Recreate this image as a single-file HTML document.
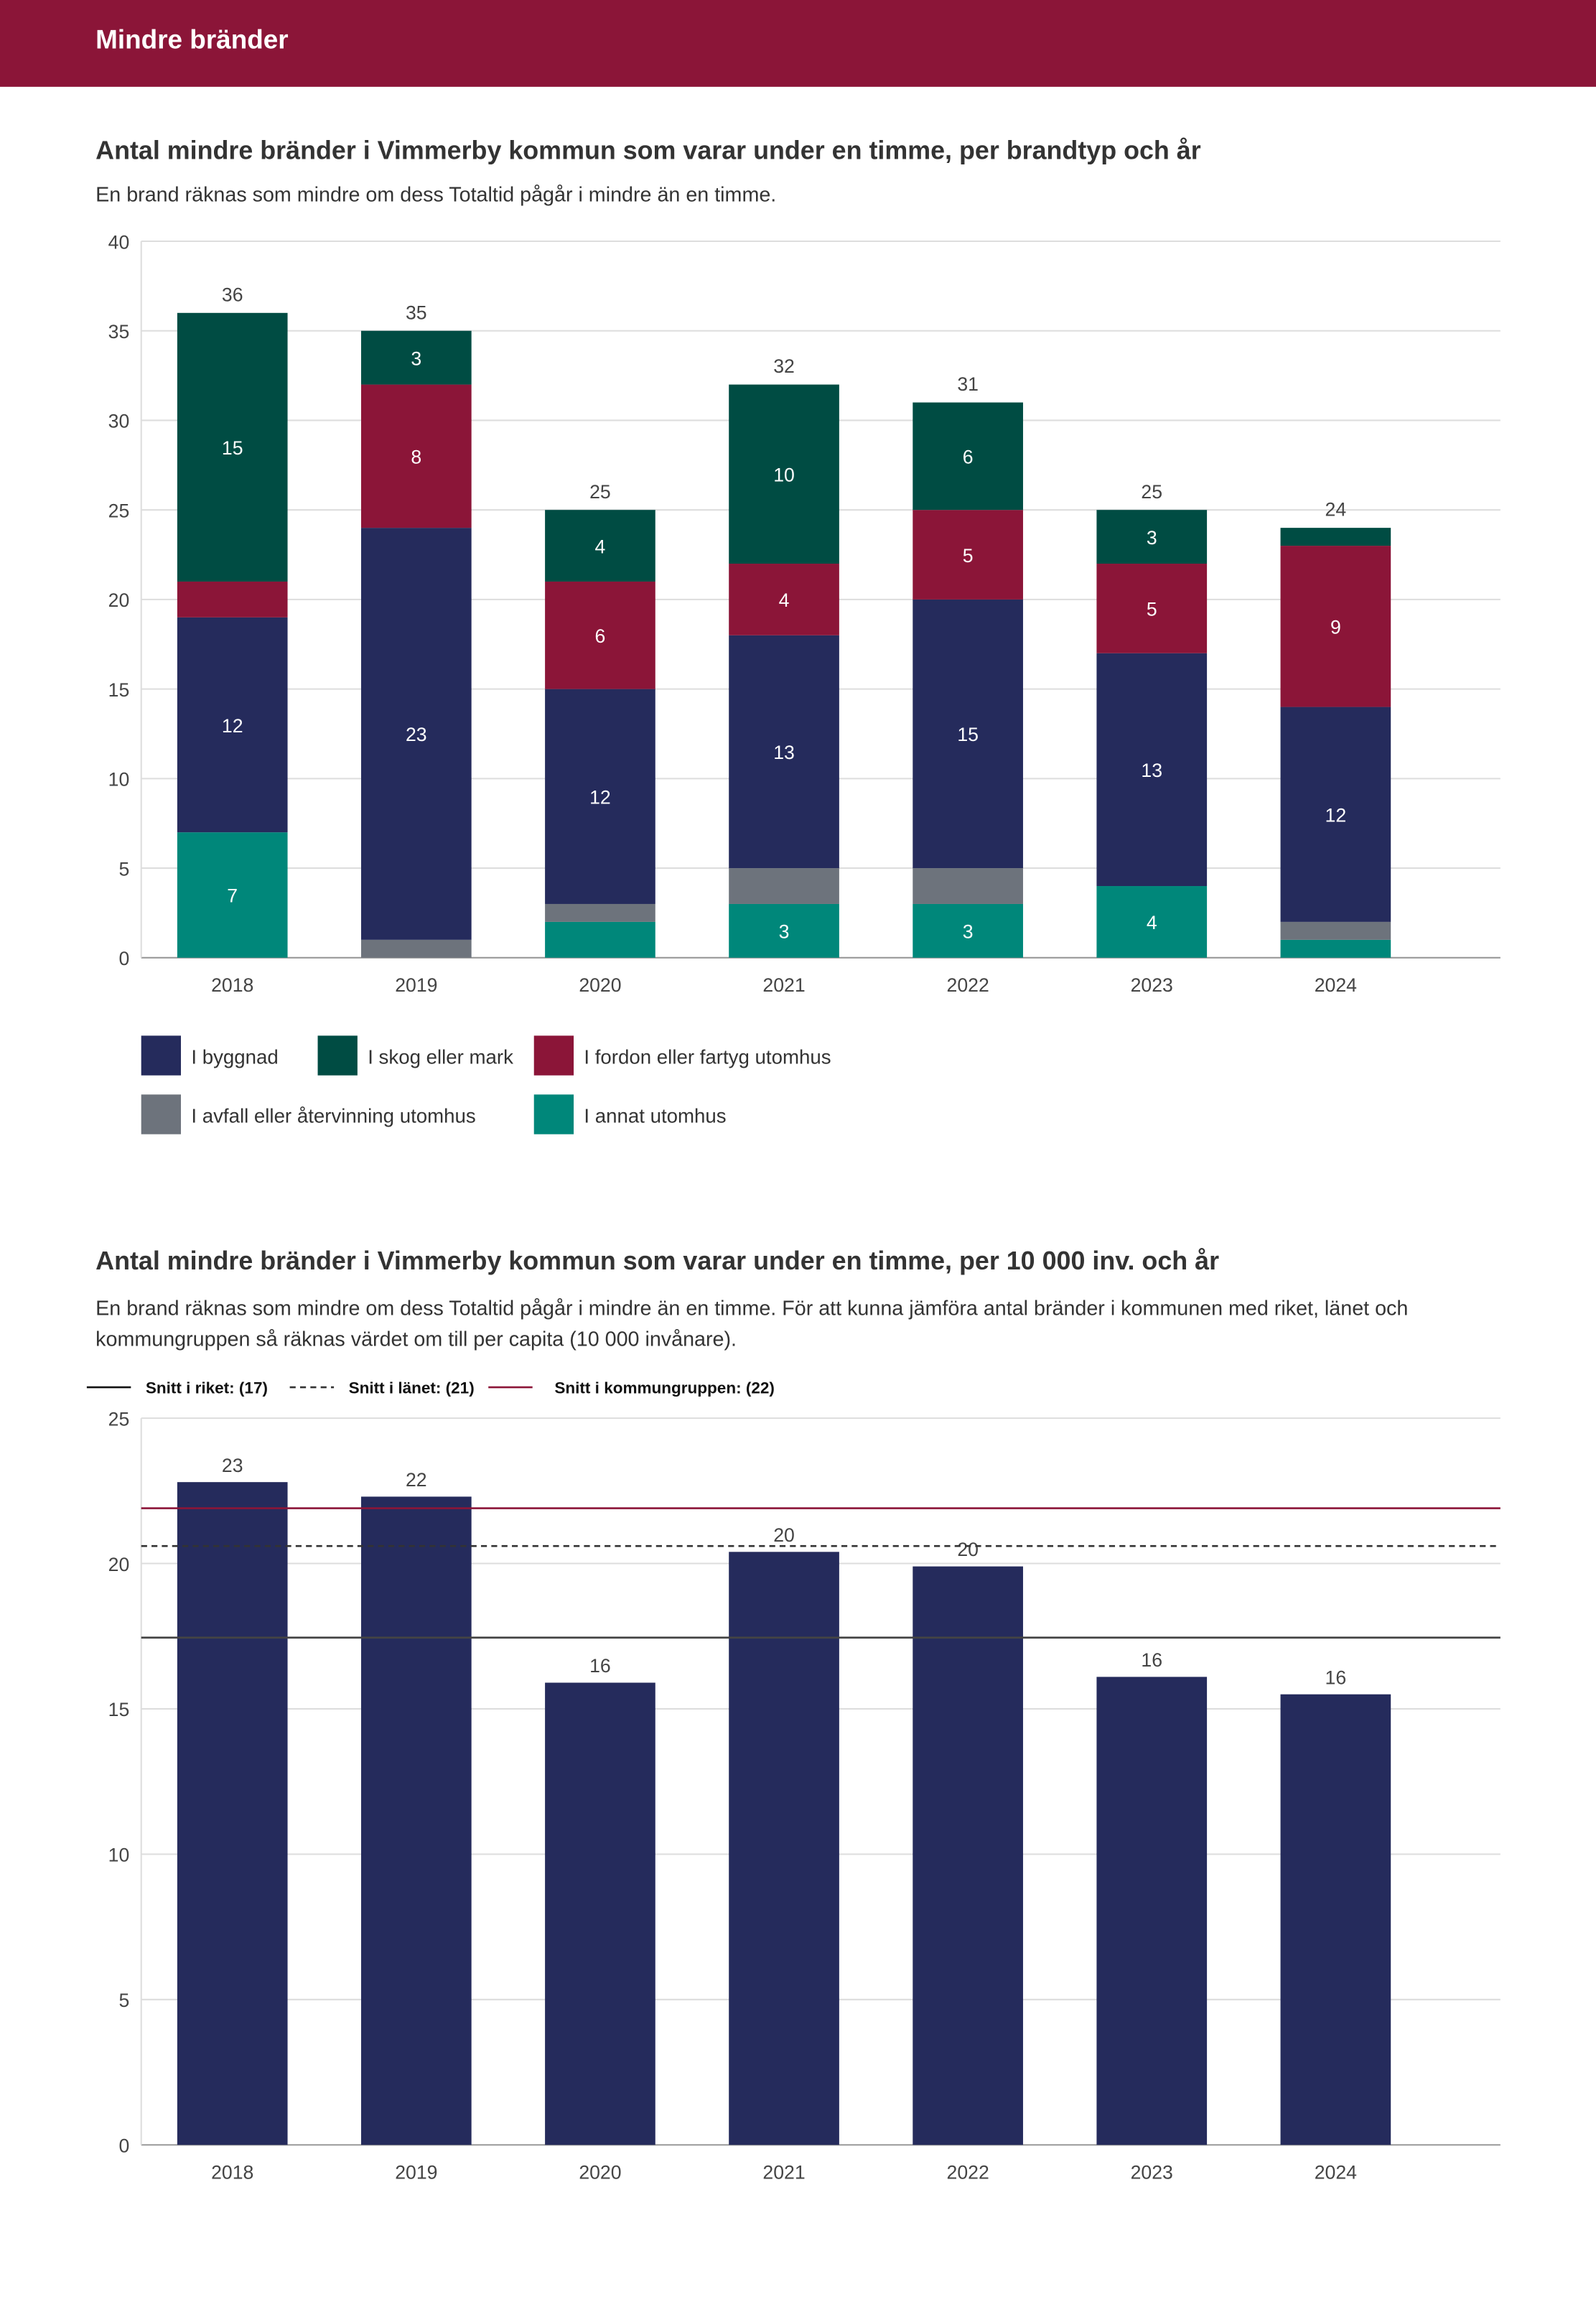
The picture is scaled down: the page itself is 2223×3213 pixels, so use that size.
<!DOCTYPE html>
<html><head><meta charset="utf-8">
<style>
html,body{margin:0;padding:0;background:#fff;}
#wrap{width:1085px;height:1568px;transform:scale(2.04885);transform-origin:0 0;position:relative;font-family:"Liberation Sans",sans-serif;color:#333;}
.hdr{position:absolute;left:0;top:0;width:1085px;height:59px;background:#8b1538;}
.hdr span{position:absolute;left:65px;top:17px;color:#fff;font-weight:bold;font-size:18px;}
.t{position:absolute;left:65px;font-weight:bold;font-size:17.5px;color:#333;}
.s{position:absolute;left:65px;font-size:14px;color:#333;line-height:21px;width:940px;}
svg{position:absolute;left:0;}
svg text{font-family:"Liberation Sans",sans-serif;}
</style></head><body>
<div id="wrap">
<div class="hdr"><span>Mindre bränder</span></div>
<div class="t" style="top:92px">Antal mindre bränder i Vimmerby kommun som varar under en timme, per brandtyp och år</div>
<div class="s" style="top:122px">En brand räknas som mindre om dess Totaltid pågår i mindre än en timme.</div>
<svg id="c1" width="1085" height="800" style="top:0"></svg>
<div class="t" style="top:847px">Antal mindre bränder i Vimmerby kommun som varar under en timme, per 10 000 inv. och år</div>
<div class="s" style="top:879px">En brand räknas som mindre om dess Totaltid pågår i mindre än en timme. För att kunna jämföra antal bränder i kommunen med riket, länet och kommungruppen så räknas värdet om till per capita (10 000 invånare).</div>
<svg id="c2" width="1085" height="1568" style="top:0"></svg>
</div>
<script>
const years=["2018","2019","2020","2021","2022","2023","2024"];
const annat=[7,0,2,3,3,4,1];
const avfall=[0,1,1,2,2,0,1];
const byggnad=[12,23,12,13,15,13,12];
const fordon=[2,8,6,4,5,5,9];
const skog=[15,3,4,10,6,3,1];
const ticks1=[0,5,10,15,20,25,30,35,40];
const perCap=[22.8,22.3,15.9,20.4,19.9,16.1,15.5];
const perCapLabels=["23","22","16","20","20","16","16"];
const ticks2=[0,5,10,15,20,25];
const riket=17.45, lanet=20.6, kommungrupp=21.9;

const NS="http://www.w3.org/2000/svg";
function mk(svg,tag,attrs,txt){const e=document.createElementNS(NS,tag);for(const k in attrs)e.setAttribute(k,attrs[k]);if(txt!==undefined)e.textContent=txt;svg.appendChild(e);return e;}
const xL=96,xR=1020,bw=75;
function xc(i){return 158+i*125;}

// chart 1
(function(){
const s=document.getElementById('c1');
const y0=651,yT=164,max=40;
const y=v=>y0-(v/max)*(y0-yT);
ticks1.forEach(t=>{
 const l=mk(s,'line',{x1:xL,x2:xR,y1:y(t),y2:y(t),stroke:t===0?'#999':'#ddd','stroke-width':1});
 
 const tx=mk(s,'text',{x:88,y:y(t)+5,'text-anchor':'end','font-size':13,fill:'#444'},t);
 
});
mk(s,'line',{x1:xL,x2:xL,y1:yT,y2:y0,stroke:'#ddd'});
const series=[[annat,'#00877a','annat'],[avfall,'#6d737c','avfall'],[byggnad,'#252b5c','byggnad'],[fordon,'#8b1538','fordon'],[skog,'#004c43','skog']];
years.forEach((yr,i)=>{
 let acc=0;
 series.forEach(([arr,col,nm])=>{
  const v=arr[i];if(v<=0)return;
  const r=mk(s,'rect',{x:xc(i)-bw/2,y:y(acc+v),width:bw,height:y(acc)-y(acc+v),fill:col});
  
  if(v>=3){const t=mk(s,'text',{x:xc(i),y:(y(acc)+y(acc+v))/2+5,'text-anchor':'middle','font-size':13,fill:'#fff'},v);
   }
  acc+=v;
 });
 const tt=mk(s,'text',{x:xc(i),y:y(acc)-8,'text-anchor':'middle','font-size':13,fill:'#444'},acc);
 
 const xl=mk(s,'text',{x:xc(i),y:674,'text-anchor':'middle','font-size':13,fill:'#444'},yr);
 
});
const leg=[[96,704,'#252b5c','I byggnad'],[216,704,'#004c43','I skog eller mark'],[363,704,'#8b1538','I fordon eller fartyg utomhus'],[96,744,'#6d737c','I avfall eller återvinning utomhus'],[363,744,'#00877a','I annat utomhus']];
leg.forEach(([x,yy,c,l])=>{
 const g=mk(s,'g',{});
 mk(g,'rect',{x:x,y:yy,width:27,height:27,fill:c});
 mk(g,'text',{x:x+34,y:yy+19,'font-size':13.5,fill:'#333'},l);
});
})();

// chart 2
(function(){
const s=document.getElementById('c2');
const y0=1458,yT=964,max=25;
const y=v=>y0-(v/max)*(y0-yT);
const lg=[[59,'#111','','Snitt i riket: (17)',99],[197,'#333','4,3','Snitt i länet: (21)',237],[332,'#8b1538','','Snitt i kommungruppen: (22)',377]];
lg.forEach(([x,c,d,l,tx])=>{
 const g=mk(s,'g',{});
 mk(g,'line',{x1:x,x2:x+30,y1:943,y2:943,stroke:c,'stroke-width':1.3,'stroke-dasharray':d});
 mk(g,'text',{x:tx,y:947,'font-size':11,'font-weight':'bold',fill:'#111'},l);
});
ticks2.forEach(t=>{
 const l=mk(s,'line',{x1:xL,x2:xR,y1:y(t),y2:y(t),stroke:t===0?'#999':'#ddd'});
 
 const tx=mk(s,'text',{x:88,y:y(t)+5,'text-anchor':'end','font-size':13,fill:'#444'},t);
 
});
mk(s,'line',{x1:xL,x2:xL,y1:yT,y2:y0,stroke:'#ddd'});
years.forEach((yr,i)=>{
 const r=mk(s,'rect',{x:xc(i)-bw/2,y:y(perCap[i]),width:bw,height:y0-y(perCap[i]),fill:'#252b5c'});
 
 const t=mk(s,'text',{x:xc(i),y:y(perCap[i])-7,'text-anchor':'middle','font-size':13,fill:'#444'},perCapLabels[i]);
 
 const xl=mk(s,'text',{x:xc(i),y:1481,'text-anchor':'middle','font-size':13,fill:'#444'},yr);
 
});
const refs=[[riket,'#444','','riket-line'],[lanet,'#333','4,3','lanet-line'],[kommungrupp,'#8b1538','','kommungrupp-line']];
refs.forEach(([v,c,d,n])=>{
 const l=mk(s,'line',{x1:xL,x2:xR,y1:y(v),y2:y(v),stroke:c,'stroke-width':1.3,'stroke-dasharray':d});
 
});
})();
</script>
</body></html>
